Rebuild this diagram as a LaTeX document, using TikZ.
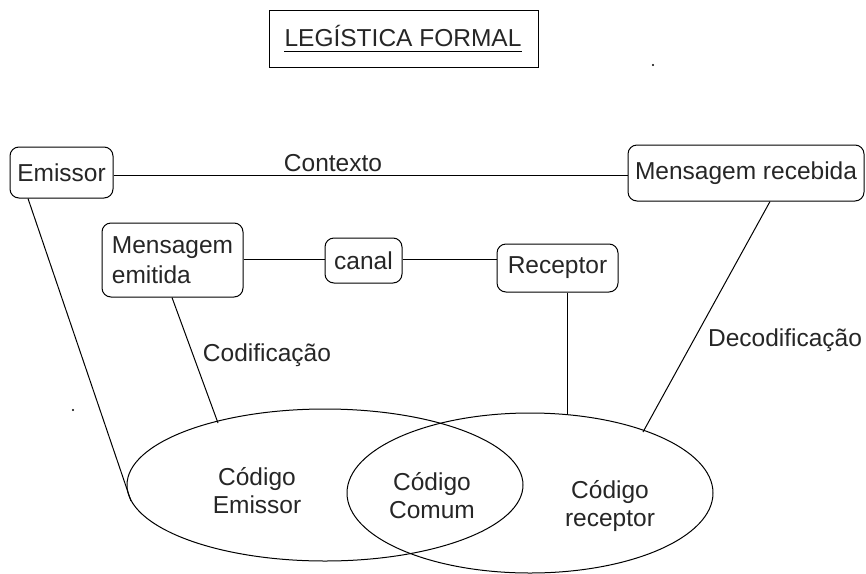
\documentclass[tikz,border=0pt]{standalone}
\usepackage{fontspec}
\setmainfont{Liberation Sans}
\begin{document}
\begin{tikzpicture}[x=1pt,y=-1pt,
  box/.style={draw,rounded corners=9pt,line width=1pt,inner sep=0pt,font=\fontsize{24.5}{27}\selectfont,text=black!85},
  lbl/.style={inner sep=0pt,font=\fontsize{24.5}{27}\selectfont,text=black!85},
  ln/.style={line width=1pt}]
\useasboundingbox (0,0) rectangle (866,573);
% title
\node[draw,line width=1pt,minimum width=269pt,minimum height=57pt,inner sep=0pt] (title) at (403.5,38.5) {};
\node[lbl,anchor=base] (titletxt) at (403,46) {LEGÍSTICA FORMAL};
\draw[line width=1pt] (titletxt.south west |- 0,51) coordinate (u1) -- (titletxt.south east |- 0,51) coordinate (u2);
% nodes
\node[box,minimum width=103pt,minimum height=51pt] (emissor) at (61.5,172.5) {Emissor};
\node[box,minimum width=236pt,minimum height=56pt] (recebida) at (746,173) {Mensagem recebida};
\node[box,minimum width=141pt,minimum height=74pt,align=left] (emitida) at (172.5,260) {Mensagem\\[3pt]emitida};
\node[box,minimum width=77pt,minimum height=45pt] (canal) at (363.5,260.5) {canal};
\node[box,minimum width=121pt,minimum height=48pt] (receptor) at (557.5,268) {Receptor};
% ellipses
\draw[ln] (325,485) ellipse [x radius=198, y radius=76];
\draw[ln] (530,493) ellipse [x radius=183, y radius=80];
\coordinate (eL) at (131,501);
\coordinate (eM) at (218,423);
\coordinate (eR) at (567,414);
\coordinate (eD) at (643,432);
% connectors
\draw[ln] (emissor.east |- 0,175) -- (recebida.west |- 0,175);
\draw[ln] (emitida.east |- 0,259) -- (canal.west |- 0,259);
\draw[ln] (canal.east |- 0,259) -- (receptor.west |- 0,259);
\draw[ln] (emissor.south -| 28,0) -- (eL);
\draw[ln] (emitida.south -| 172,0) -- (eM);
\draw[ln] (receptor.south -| eR) -- (eR);
\draw[ln] (recebida.south -| 770,0) -- (eD);
% labels
\node[lbl] (contexto) at (333,163) {Contexto};
\node[lbl] (codif) at (267,355) {Codificação};
\node[lbl] (decodif) at (785,340) {Decodificação};
\node[lbl,align=center] (ce) at (257,491) {Código\\[1pt]Emissor};
\node[lbl,align=center] (cc) at (432,496) {Código\\[1pt]Comum};
\node[lbl,align=center] (cr) at (610,506) {Código\\[1pt]receptor};
% stray dots
\fill (73,410) circle (1.2);
\fill (653,65) circle (1.2);
\end{tikzpicture}
\end{document}
